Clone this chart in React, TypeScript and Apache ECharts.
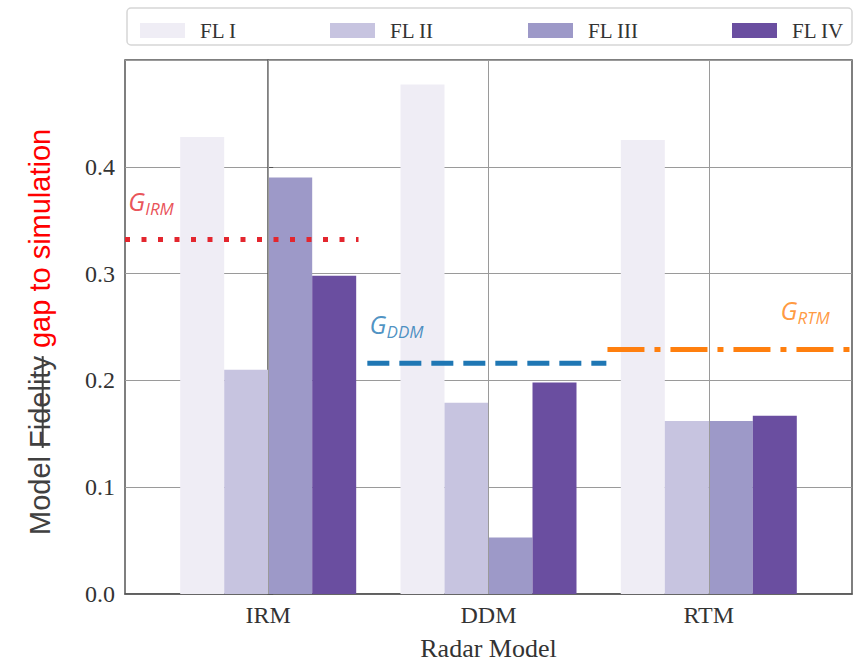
import React, { useEffect, useRef } from "react";
import * as echarts from "echarts";

const categories = ["IRM", "DDM", "RTM"];
const seriesNames = ["FL I", "FL II", "FL III", "FL IV"];
const flI = [0.428, 0.477, 0.425];
const flII = [0.21, 0.179, 0.162];
const flIII = [0.39, 0.053, 0.162];
const flIV = [0.298, 0.198, 0.167];
const barColors = ["#efedf5", "#c7c4e0", "#9d99c8", "#6a4ea0"];
const yTicks = [0, 0.1, 0.2, 0.3, 0.4];

// gap reference lines: value and x-span (in category units)
const gapNames = ["IRM", "DDM", "RTM"];
const gapValues = [0.332, 0.216, 0.229];
const gapSpans = [
  [-0.65, 0.41],
  [0.45, 1.535],
  [1.54, 2.65],
];
const gapLabelPos = [
  [-0.635, 0.368],
  [0.46, 0.253],
  [2.325, 0.266],
];
const gapColors = ["#e3262e", "#1f77b4", "#ff7f0e"];
const gapDash: number[][] = [
  [5, 11.5],
  [22, 10],
  [37, 10, 6, 10],
];

const legendLefts = [135, 325, 523, 727];

function measure(text: string, font: string): number {
  const c = document.createElement("canvas").getContext("2d");
  if (!c) return text.length * 14;
  c.font = font;
  return c.measureText(text).width;
}

export default function App() {
  const ref = useRef<HTMLDivElement>(null);
  useEffect(() => {
    if (!ref.current) return;
    const chart = echarts.init(ref.current, undefined, { renderer: "svg" });
    const allVals = [flI, flII, flIII, flIV];

    const titleSize = 29;
    const titleFont = titleSize + "px 'Liberation Sans'";
    const w1 = measure("Model ", titleFont);
    const w2 = measure("Fidelity", titleFont);
    const titleFontObj = { fontFamily: "Liberation Sans", fontSize: titleSize };

    const barSeries = seriesNames.map((name, i) => ({
      name,
      type: "bar",
      z: 2,
      barWidth: 44,
      barGap: "0%",
      itemStyle: { color: barColors[i] },
      data: allVals[i].map((v, k) => [k, v]),
    }));

    const gapLineSeries = gapNames.map((g, i) => ({
      name: "G_" + g,
      type: "line",
      z: 3,
      symbol: "none",
      silent: true,
      lineStyle: { color: gapColors[i], width: 5, type: gapDash[i], cap: "butt" },
      data: gapSpans[i].map((x) => [x, gapValues[i]]),
    }));

    const gapLabelSeries = gapNames.map((g, i) => ({
      name: "Glabel_" + g,
      type: "scatter",
      z: 4,
      symbolSize: 0,
      silent: true,
      data: [gapLabelPos[i]],
      label: {
        show: true,
        position: "right",
        distance: 0,
        formatter: "{g|G}{s|" + g + "}",
        rich: {
          g: {
            fontFamily: "Open Sans",
            fontStyle: "italic",
            fontSize: 25,
            lineHeight: 32,
            color: gapColors[i],
          },
          s: {
            fontFamily: "Open Sans",
            fontStyle: "italic",
            fontSize: 17,
            lineHeight: 14,
            verticalAlign: "bottom",
            color: gapColors[i],
          },
        },
      },
    }));

    const gridSeries = {
      name: "vgrid",
      type: "line",
      z: 1,
      data: [],
      silent: true,
      markLine: {
        silent: true,
        symbol: "none",
        label: { show: false },
        lineStyle: { color: "#9a9a9a", width: 1, type: "solid" },
        data: categories.map((_, k) => ({ xAxis: k })),
      },
    };

    chart.setOption({
      animation: false,
      backgroundColor: "#ffffff",
      grid: {
        left: 125,
        right: 11,
        top: 60,
        bottom: 65,
        show: true,
        borderColor: "#555",
        borderWidth: 1.5,
        backgroundColor: "transparent",
      },
      legend: seriesNames.map((n, i) => ({
        data: [n],
        left: legendLefts[i],
        top: 15,
        itemWidth: 45,
        itemHeight: 15,
        icon: "rect",
        selectedMode: false,
        textStyle: {
          fontFamily: "Liberation Serif",
          fontSize: 21,
          color: "#333",
          padding: [0, 0, 0, 10],
        },
      })),
      xAxis: {
        type: "value",
        min: -0.65,
        max: 2.65,
        name: "Radar Model",
        nameLocation: "middle",
        nameGap: 41,
        nameTextStyle: { fontFamily: "Liberation Serif", fontSize: 26, color: "#333" },
        axisLine: { show: true, onZero: false, lineStyle: { color: "#555", width: 1.5 } },
        axisTick: { show: false },
        splitLine: { show: false },
        axisLabel: {
          customValues: [0, 1, 2],
          formatter: (v: number) => categories[Math.round(v)] ?? "",
          fontFamily: "Liberation Serif",
          fontSize: 24,
          color: "#333",
          margin: 9,
        },
      },
      yAxis: {
        type: "value",
        min: 0,
        max: 0.5,
        interval: 0.1,
        axisLine: { show: true, lineStyle: { color: "#555", width: 1.5 } },
        axisTick: { show: true, inside: true, length: 5, lineStyle: { color: "#555" } },
        splitLine: { show: true, lineStyle: { color: "#9a9a9a", width: 1 } },
        axisLabel: {
          showMaxLabel: false,
          formatter: (v: number) => (yTicks.some((t) => Math.abs(t - v) < 1e-9) ? v.toFixed(1) : ""),
          fontFamily: "Liberation Serif",
          fontSize: 24,
          color: "#333",
          margin: 10,
        },
      },
      graphic: [
        {
          type: "rect",
          shape: { x: 127, y: 8, width: 725, height: 37, r: 4 },
          style: { fill: "#ffffff", stroke: "#d6d6d6", lineWidth: 1.5 },
          z: -1,
          silent: true,
        },
        {
          type: "group",
          x: 40,
          y: 535,
          rotation: Math.PI / 2,
          silent: true,
          children: [
            {
              type: "text",
              x: 0,
              y: 0,
              style: {
                text: "Model ",
                ...titleFontObj,
                fill: "#404040",
                textAlign: "left",
                textVerticalAlign: "middle",
              },
            },
            {
              type: "text",
              x: w1,
              y: 0,
              style: {
                text: "Fidelity",
                ...titleFontObj,
                fill: "#404040",
                textAlign: "left",
                textVerticalAlign: "middle",
              },
            },
            {
              type: "line",
              shape: { x1: w1, y1: 2.7, x2: w1 + w2, y2: 2.7 },
              style: { stroke: "#404040", lineWidth: 2 },
            },
            {
              type: "text",
              x: w1 + w2,
              y: 0,
              style: {
                text: " gap to simulation",
                ...titleFontObj,
                fill: "#ff0000",
                textAlign: "left",
                textVerticalAlign: "middle",
              },
            },
          ],
        },
      ],
      series: [gridSeries, ...barSeries, ...gapLineSeries, ...gapLabelSeries],
    });
    return () => chart.dispose();
  }, []);
  return <div ref={ref} style={{ width: 863, height: 666, position: "absolute", left: 0, top: 0 }} />;
}
